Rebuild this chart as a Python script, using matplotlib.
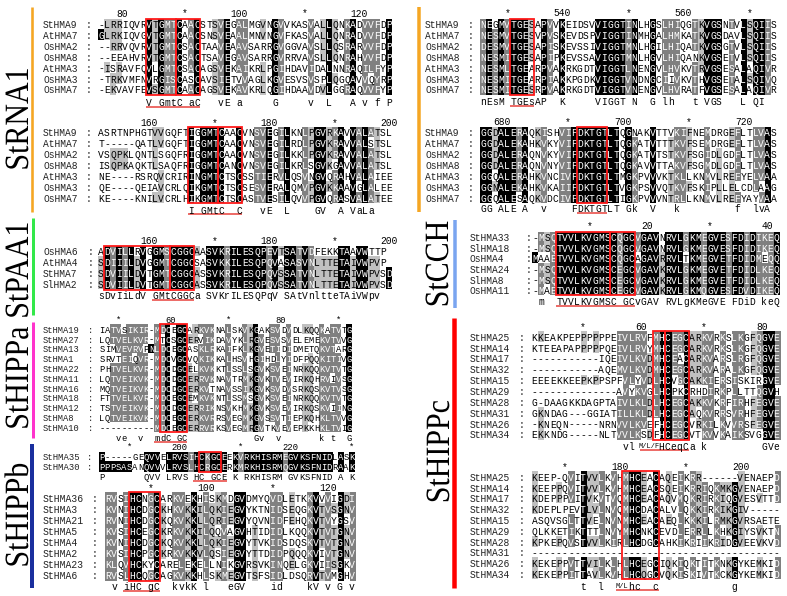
import matplotlib
matplotlib.use("Agg")
import matplotlib.pyplot as plt
from matplotlib.patches import Rectangle
from matplotlib.patheffects import AbstractPathEffect
from matplotlib.transforms import Affine2D
import numpy as np
from collections import Counter

W, H = 787, 596
MONO = "Liberation Mono"
SERIF = "Liberation Serif"

# ---------------- data ----------------
RNA_names = ["StHMA9", "AtHMA7", "OsHMA2", "OsHMA8", "AtHMA3", "OsHMA3", "OsHMA7"]

L1_seqs = ["-LRRIQVRVTGMTCAACSTSVEGALMGVNGVVKASVALLQNKADVVFDP",
           "GLRKIQVGVTGMTCAACSNSVEAALMNVNGVFKASVALLQNRADVVFDP",
           "--RRVQVRVTGMTCSACTAAVEAAVSARRGVGGVAVSLLQSRARVVFDP",
           "--EEAHVRVTGMTCSACTSAVEGAVSARRGVRRVAVSLLQNRAHVVFDP",
           "-ISRAVFQVLGMTCSACAGSVEKAIKRLPGIHDAVIDALNNRAQILFYP",
           "-TRKVMFNVRGISCASCAVSIETVVAGLKGVESVSVSPLQGQAVVQYRP",
           "-EKVAVFEVSGMTCAACAGSVEKAVKRLQGIHDAAVDVLGGRAQVVFYP"]
L1_ruler = [(4, "80"), (14, "*"), (24, "100"), (34, "*"), (44, "120")]
L1_cons = [(8, "V"), (10, "GmtC"), (15, "aC"), (20, "vE"), (23, "a"), (29, "G"), (35, "v"),
           (38, "L"), (42, "A"), (44, "v"), (46, "f"), (48, "P")]

L2_seqs = ["ASRTNPHGTVVGQFTIGGMTCAACVNSVEGILKNLPGVRKAVVALATSL",
           "T-----QATLVGQFTIGGMTCAACVNSVEGILRDLPGVKRAVVALSTSL",
           "VSQPKLQNTLSGQFRIGGMTCAACVNSVEGILKKLPGVKRAVVALATSL",
           "ISQPKAQKTLSAQFRIGGMTCANCVNSVEGILKRLSGVKGAVVALATSL",
           "NE----RSRQVCRIRINGMTCTSCSSTIERVLQSVNGVQRAHVALAIEE",
           "QE----QEIAVCRLQIKGMTCTSCSESVERALQMVPGVKKAAVGLALEE",
           "KE----KNILVCRLHIKGMTCTSCASTVESILQVVPGVQRASVALATEE"]
L2_ruler = [(9, "160"), (19, "*"), (29, "180"), (39, "*"), (49, "200")]
L2_cons = [(15, "I"), (17, "GMtC"), (23, "C"), (27, "vE"), (31, "L"), (36, "GV"), (40, "A"), (42, "VaLa")]

PAA_names = ["OsHMA6", "AtHMA4", "StHMA7", "SlHMA2"]
L3_seqs = ["ADVILLRVGGMSCGGCAASVKRILESQPEVTSATVDFEKKTAAVWTTP",
           "SDIIILDVGGMTCGGCSASVKKILESQPQVASASVNLTTETAIVWPVP",
           "SDVIILDVTGMTCGGCASSVKRILESQPQVSSATVNLTTETAIVWPVSD",
           "SDVIILDVTGMTCGGCASSVKRILESQPQVSSATVNLTTETAIVWPVSD"]
L3_ruler = [(9, "160"), (19, "*"), (29, "180"), (39, "*"), (49, "200")]
L3_cons = [(0, "sDvIiLdV"), (9, "GMtCGGCa"), (18, "SVKrILESQPqV"), (31, "SAtVnltteTAiVWpv")]

HIPPa_names = ["StHMA19", "StHMA27", "StHMA13", "StHMA1", "StHMA22", "StHMA11",
               "StHMA16", "StHMA18", "StHMA12", "StHMA8", "StHMA10"]
L4_seqs = ["IATVSIKIR-MDCEGCARKVKNALSKVKGAKSVDVDLKQQKATVTG",
           "LQTVELKVR-MTCSGCERVIKDAVYKLRGVESVSVELEMEKVTVVG",
           "SIMVEVRVPNLDCEGCASKLRKAIFKLKGVETIDIDMETQKVTARG",
           "SRVTEIQVR-MDCVGCVQKIKKALHSVHGIHDLYIDFPQQKITIVG",
           "PHTVELKVR-MDCDGCELKVKKTLSSLSGVKSVEINRKQQKVTVTG",
           "LQTVEIKVK-MDCDGCERRVKNAVTRMKGVKTVEVIRKQHRVIVSG",
           "MQTVEIKVK-MDCDGCERKVTNAVSSIKGVKSVDVSRKQSKVTVSG",
           "FTTVELKVR-MDCEGCEMKVKNTLSSMSGVKSVEINRKQQKVTVTG",
           "TSTVEIKVK-MDCDGCERRIKNSVKHMKGVKSVEVIRKQSKVIING",
           "LQTVEIKVK-MDCEGCERKVRRSVEGMKGVSSVTIEPKQHKLTVVG",
           "----------MDCEGCERRVRKSVEGMRGVTKVEVEPKKHKLTVIG"]
L4_ruler = [(3, "*"), (13, "60"), (23, "*"), (33, "80"), (43, "*")]
L4_cons = [(3, "ve"), (7, "v"), (10, "mdC"), (14, "GC"), (28, "Gv"), (32, "v"), (40, "k"), (42, "t"), (45, "G")]

HIPPb1_names = ["StHMA35", "StHMA30"]
L5_seqs = ["P-----GEQVVELRVSIHCKGCEEKVRKHISRMEGVKSFNIDLASK",
           "PPPSASANQVVVLRVSLHCRGCERKMRKHISRMQGVKSFNIDRAAK"]
L5_ruler = [(5, "*"), (15, "200"), (25, "*"), (35, "220"), (45, "*")]
L5_cons = [(0, "P"), (8, "QVV"), (12, "LRVS"), (17, "HC"), (20, "GCE"), (24, "K"), (26, "RKHISRM"),
           (34, "GVKSFNID"), (43, "A"), (45, "K")]

HIPPb2_names = ["StHMA36", "StHMA3", "StHMA21", "StHMA5", "StHMA4", "StHMA2", "StHMA23", "StHMA6"]
L6_seqs = ["RVSIHCNGCARKVEKHISKMDGVDMYQVDLETKKVVVIGDI",
           "KVNIHCDGCKHKVKKILQKIEGVYKTNIDSEQGKVTVSGNV",
           "RVNIHCDGCKQKVKKLLQRIEGVYQVNIDFEHQKVTVYGSV",
           "KVSIHCEGCKRKVKKILQQVAGVHTIDIDLKQQKVTVTGNV",
           "KVNIHCDGCKQKVKKLLQKIEGVYTVKIDSDQSKVTVTGNV",
           "KVSIHCPGCKRKVKKVLQSIEGVYTTDIDPQQQKVIVTGNV",
           "KLQVHCKYCARELEKELLNIKGVRSVKINQELGKVIISGKV",
           "RVSLHCQGCAGKVKKHLSKMEGVTSFSIDLDSQRVTVMGHV"]
L6_ruler = [(7, "*"), (17, "100"), (27, "*"), (37, "120")]
L6_cons = [(1, "v"), (3, "iHC"), (7, "gC"), (11, "kvkK"), (16, "l"), (20, "eGV"), (27, "id"),
           (33, "kV"), (36, "v"), (38, "G"), (40, "v")]

R1_seqs = ["NEGMVTGESAPVVKEIDSVVIGGTINLHGSLHIQGTKVGSNTVLSQIIS",
           "NESMVTGESVPVSKEVDSPVIGGTINMHGALHMKATKVGSDAVLSQIIS",
           "DESMVTGESAPISKEVSSIVIGGTMNLHGILHIQATKVGSGTVLSQIIS",
           "NESMITGESAPIPKEVSSAVIGGTMNLHGVLHIQANKVGSETVLSQIIS",
           "NESMLTGEARPVAKRKGDTVIGGTLNENGVLHVKVTRVGSESALAQIVR",
           "NESMITGEARPIAKKPGDKVIGGTVNDNGCIIVKVTHVGSETALSQIVQ",
           "NESMITGESRPVAKRKGDTVIGGTVNENGVLHVRATFVGSESALAQIVR"]
R1_ruler = [(4, "*"), (14, "540"), (24, "*"), (34, "560"), (44, "*")]
R1_cons = [(0, "nEsM"), (5, "TGEsA"), (10, "P"), (13, "K"), (19, "VIGGT"), (25, "N"), (28, "G"),
           (30, "lh"), (35, "t"), (37, "VGS"), (43, "L"), (45, "QI")]

R2_seqs = ["GGDALERAQKISHVIFDKTGTLTQGNAKVTTVKIFNEMDRGEFLTLVAS",
           "GGDALEKAHKVKYVIFDKTGTLTQGKATVTTTKVFSEMDRGEFLTLVAS",
           "GGDALERAQNVKYVIFDKTGTLTQGKATVTSTKVFSGIDLGDFLTLVAS",
           "GGDALERAQNVNYVIFDKTGTLTQGKAVVTTAKVFSGMDLGDFLTLVAS",
           "GGQALERAHKVNCIVFDKTGTLTMGKPVVVKTKLLKNMVLREFYELVAA",
           "GGNALEKAHKVKAIIFDKTGTLTVGKPSVVQTKVFSKIPLLELCDLAAG",
           "GGQALESAQKVDCIVFDKTGTLTIGKPVVVNTRLLKNMVLREFYAYVAA"]
R2_ruler = [(4, "680"), (14, "*"), (24, "700"), (34, "*"), (44, "720")]
R2_cons = [(0, "GG"), (3, "ALE"), (7, "A"), (10, "v"), (15, "FDKTGTLT"), (24, "Gk"), (28, "V"),
           (32, "k"), (42, "f"), (45, "lvA")]

CCH_names = ["StHMA33", "SlHMA18", "OsHMA4", "StHMA24", "SlHMA8", "OsHMA11"]
R3_seqs = ["-MSQTVVLKVGMSCQGCVGAVNRVLGKMEGVESFDIDIKEQ",
           "-MSQTVVLKVGMSCQGCVGAVNRVLGKMEGVESFDIDIKEQ",
           "MAAETVVLKVGMSCQGCAGAVRRVLTKMEGVETFDIDMEQQ",
           "-MSQTVVLKVGMSCEGCVGAVKRVLGKMEGVETFDIDLKEQ",
           "-MSQTVVLKVGMSCEGCVGAVKRVLGKMEGVETFDIDLKEQ",
           "-MAETVVLKVGMSCEGCVGAVKRVLGKMQGVESFDVDIKEQ"]
R3_ruler = [(9, "*"), (19, "20"), (29, "*"), (39, "40")]
R3_cons = [(1, "m"), (4, "TVVLKVGMSC"), (15, "GCvGAV"), (22, "RVLgKMeGVE"), (33, "FDiD"), (38, "keQ")]

HIPPc_names = ["StHMA25", "StHMA14", "StHMA17", "StHMA32", "StHMA15", "StHMA29",
               "StHMA28", "StHMA31", "StHMA26", "StHMA34"]
R4_seqs = ["KKEAKPEPPPPPPEIVLRVFMHCEGCARKVRKSLKGFQGVE",
           "KTEEAPAPPPPPQEIVLRVYMHCEGCARKVRKSLKGFQGVE",
           "-----------IQEIVLKVDMHCEACARKVARSLRGFQGVE",
           "-----------AQEMVLKVDMHCEGCARKVARALKGFQGVE",
           "EEEEKKEEPKPPSPFVLYVDLHCVGCAKKIERSISKIRGVE",
           "--------------AVYKVGLHCPKCRHDIRKPLLTTQGVH",
           "G-DAAGKKDAGPTAIVLKLDLHCEGCAKKVKRFIRHFEGVE",
           "GKNDAG---GGIATILLKLDLHCEGCAQKVRRSVRHFEGVE",
           "-KNEQN-----NRNVVLKVEFHCEGCVRKILKVVRSFEGVE",
           "EKKNDG-----NLTVVLKSDFHCEGCVTKVVKAIKSVGGVE"]
R4_ruler = [(8, "*"), (18, "60"), (28, "*"), (38, "80")]
R4_cons = [(15, "vl"), (21, "HCeqCa"), (28, "k"), (38, "GVe")]
R4_small = [(19.5, "M/L/F")]

R5_seqs = ["KEEP-QVITVVLKVHMHCEACAQEIKRR------VENAEPD",
           "KEEPPQVITVVLKVHMHCEACSQEIKRRIQKMKGVENAEPD",
           "KDEPPPVITVKVTVQMHCEACAQVMQKRIRKIQGVESVTTD",
           "KDEPLPEVTLVLNVQMHCDACALVLQKKIRKIKGIV-----",
           "ASQVSGLTTVELNVNMHCEACAEQLKKKILRMKGVRSAETE",
           "QLKKETIKTTTLNVYMHCNKCEVDLERRLLKHKGIYSVKTN",
           "KPKEPQVSTVVLKIRLHCDGCAHKIKRIIKRIDGVEEVKVD",
           "-----------------------------------------",
           "KEKEPPVTTVILKLHLHCEGCIQKIQKTITKNKGYKEMKID",
           "KEKEPPITTAVLKVHLHCQGCVQKISKIVTKCKGYKEMKID"]
R5_ruler = [(5, "*"), (15, "180"), (25, "*"), (35, "200")]
R5_cons = [(8, "t"), (11, "l"), (16, "hc"), (20, "c"), (33, "g")]
R5_small = [(15.0, "M/L")]

group_labels = ["StRNA1", "StPAA1", "StHIPPa", "StHIPPb", "StCCH", "StHIPPc"]

# ---------------- drawing ----------------
fig = plt.figure(figsize=(W / 100, H / 100), dpi=100)
fig.patch.set_facecolor("white")

bg = fig.add_axes([0, 0, 1, 1], zorder=0)
bg.set_xlim(0, W)
bg.set_ylim(H, 0)
bg.axis("off")

GROUPS = ["LIVM", "FYW", "KR", "DN", "EQ", "ST"]


def shade(seqs):
    n = len(seqs)
    ncol = max(len(s) for s in seqs)
    grid = [s.ljust(ncol) for s in seqs]
    lv = np.zeros((n, ncol), int)
    for c in range(ncol):
        col = [g[c] for g in grid]
        res = [ch for ch in col if ch.isalpha()]
        m = len(res)
        if m == 0:
            continue
        top, tc = Counter(res).most_common(1)[0]
        if tc == m:
            for r, ch in enumerate(col):
                if ch == top:
                    lv[r, c] = 3
            continue
        best, bc = {top}, tc
        for g in GROUPS:
            k = sum(ch in g for ch in res)
            if k > bc:
                best, bc = set(g), k
        f = bc / m
        level = 2 if f >= 0.8 else (1 if f >= 0.6 else 0)
        if level:
            for r, ch in enumerate(col):
                if ch in best:
                    lv[r, c] = level
    return grid, lv


FG = {0: "black", 1: "black", 2: "white", 3: "white"}
RED = "#ff1a1a"


def draw_block(names, seqs, ruler, cons, boxes, uline, x0, cw, y0, rh,
               name_x, colon_x, ruler_off, cons_off, small=()):
    grid, lv = shade(seqs)
    n, ncol = lv.shape
    ytop = y0 - rh / 2
    ybot = y0 + (n - 0.5) * rh
    ax = fig.add_axes([x0 / W, 1 - ybot / H, ncol * cw / W, (ybot - ytop) / H], zorder=2)
    rgb = np.ones((n, ncol, 3))
    rgb[lv == 1] = 0.753
    rgb[lv == 2] = 0.502
    rgb[lv == 3] = 0.0
    ax.imshow(rgb, extent=(0, ncol, n - 0.5, -0.5), interpolation="nearest", aspect="auto")
    ax.set_xlim(0, ncol)
    ax.set_ylim(n - 0.5, -0.5)
    ax.axis("off")
    fs = cw * 1.15
    kw = dict(family=MONO, fontsize=fs, va="center_baseline", clip_on=False)
    for r, (nm, row) in enumerate(zip(names, grid)):
        ax.text((name_x - x0) / cw, r, nm, ha="left", color="#222222", **kw)
        ax.text((colon_x - x0) / cw, r, ":", ha="center", color="#222222", **kw)
        for c, ch in enumerate(row):
            if ch != " ":
                ax.text(c + 0.5, r, ch, ha="center", color=FG[lv[r, c]], **kw)
    ry = -ruler_off / rh
    for c, lab in ruler:
        if lab == "*":
            ax.text(c + 0.5, ry, lab, ha="center", **kw)
        else:
            ax.text(c + 1, ry, lab, ha="right", **kw)
    cy = n - 1 + cons_off / rh
    for c, tok in cons:
        for i, ch in enumerate(tok):
            ax.text(c + i + 0.5, cy, ch, ha="center", **kw)
    for xc, tok in small:
        ax.text(xc, cy, tok, ha="center", family=MONO, fontsize=fs * 0.72,
                va="center_baseline", clip_on=False)
    for c1, c2 in boxes:
        ax.add_patch(Rectangle((c1, -0.5), c2 - c1 + 1, n, fill=False, ec=RED,
                               lw=1.3, clip_on=False, zorder=5))
    uy = cy + 4.6 / rh
    ax.plot([uline[0], uline[1] + 1], [uy, uy], color="#e8413c", lw=1.1,
            clip_on=False, solid_capstyle="butt")


# left column
draw_block(RNA_names, L1_seqs, L1_ruler, L1_cons, [(8, 12), (13, 16)], (8, 16),
           98, 6.0, 24, 10.9, 43, 88, 11.5, 13.0)
draw_block(RNA_names, L2_seqs, L2_ruler, L2_cons, [(15, 19), (20, 23)], (15, 23),
           98, 6.0, 132.3, 10.9, 43, 89, 10.5, 12.0)
draw_block(PAA_names, L3_seqs, L3_ruler, L3_cons, [(1, 11), (12, 15)], (9, 15),
           98, 6.0, 251, 11.0, 43, 90, 11.0, 11.0)
draw_block(HIPPa_names, L4_seqs, L4_ruler, L4_cons, [(11, 15)], (10, 15),
           99.3, 5.5, 329.3, 9.8, 43, 90, 10.0, 10.4)
draw_block(HIPPb1_names, L5_seqs, L5_ruler, L5_cons, [(18, 21)], (17, 22),
           99, 5.55, 456.7, 10.0, 43, 90, 10.0, 10.0)
draw_block(HIPPb2_names, L6_seqs, L6_ruler, L6_cons, [(4, 8)], (3, 8),
           105, 6.1, 497.7, 11.1, 43, 95, 10.7, 10.7)
# right column
draw_block(RNA_names, R1_seqs, R1_ruler, R1_cons, [(5, 8)], (5, 8),
           480, 6.05, 24, 10.9, 425, 470, 12.0, 11.5)
draw_block(RNA_names, R2_seqs, R2_ruler, R2_cons, [(16, 20)], (16, 20),
           480, 6.05, 132.3, 10.9, 425, 470, 11.5, 10.5)
draw_block(CCH_names, R3_seqs, R3_ruler, R3_cons, [(4, 12), (13, 16)], (4, 16),
           532, 6.03, 237.3, 10.55, 470, 528.3, 12.5, 11.0)
draw_block(HIPPc_names, R4_seqs, R4_ruler, R4_cons, [(20, 21), (22, 25)], (18, 25),
           531.5, 6.05, 336.7, 10.85, 470, 521.7, 10.7, 11.4, R4_small)
draw_block(HIPPc_names, R5_seqs, R5_ruler, R5_cons, [(15, 20)], (14, 20),
           531.5, 6.05, 476.7, 10.8, 470, 521.7, 11.0, 11.7, R5_small)

# coloured group bars
bars = [(32.2, 6.7, 211.7, 2.6, "#F5A623"),
        (32.5, 218.3, 315.0, 3.0, "#33E84A"),
        (32.5, 321.7, 438.3, 3.0, "#FF33CC"),
        (32.2, 444.3, 587.7, 4.0, "#1A2F9E"),
        (418.7, 6.7, 211.7, 3.5, "#F5A623"),
        (455.0, 220.0, 308.3, 3.5, "#7AA5F0"),
        (454.2, 318.3, 588.3, 4.5, "#FF0000")]
for x, y1, y2, w, col in bars:
    bg.plot([x, x], [y1, y2], color=col, lw=w * 0.72, solid_capstyle="butt")


class Condense(AbstractPathEffect):
    """Narrow the glyphs along the reading direction (labels are condensed serif)."""

    def __init__(self, sx):
        super().__init__()
        self.sx = sx

    def draw_path(self, renderer, gc, tpath, affine, rgbFace=None):
        v = tpath.vertices
        cx = (v[:, 0].min() + v[:, 0].max()) / 2 if len(v) else 0
        t = Affine2D().translate(-cx, 0).scale(self.sx, 1).translate(cx, 0) + affine
        renderer.draw_path(gc, tpath, t, rgbFace)


label_pos = [(28, 119), (28, 270), (28, 378), (28, 515), (448, 264), (449, 451.5)]
for lab, (x, y) in zip(group_labels, label_pos):
    bg.text(x, y, lab, rotation=90, rotation_mode="anchor", ha="center", va="baseline",
            family=SERIF, fontsize=24.5, color="black", path_effects=[Condense(0.88)])

fig.savefig("out.png", dpi=100, facecolor="white")
